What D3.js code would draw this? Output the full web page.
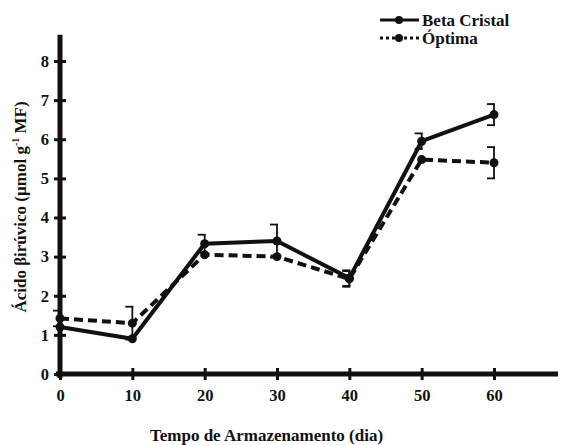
<!DOCTYPE html>
<html><head><meta charset="utf-8">
<script src="https://cdn.jsdelivr.net/npm/d3@7"></script>
<style>body{margin:0;background:#fff}svg{display:block}</style>
</head><body>
<script>
const days = [0, 10, 20, 30, 40, 50, 60];
const betaCristal = [1.2, 0.9, 3.33, 3.4, 2.45, 5.95, 6.63];
const betaErr = [0, 0, 0.23, 0.42, 0.2, 0.2, 0.27];
const optima = [1.42, 1.3, 3.05, 3.0, 2.43, 5.48, 5.4];
const optimaErr = [0.2, 0.42, 0, 0, 0.2, 0, 0.4];
const yTicks = [0, 1, 2, 3, 4, 5, 6, 7, 8];
const xTicks = [0, 10, 20, 30, 40, 50, 60];
const seriesNames = ["Beta Cristal", "Óptima"];

const W = 561, H = 445;
const svg = d3.select("body").append("svg").attr("width", W).attr("height", H);
const font = "'Liberation Serif', 'Times New Roman', serif";

const x = d3.scaleLinear().domain([0, 60]).range([60, 494]);
const y = d3.scaleLinear().domain([0, 8]).range([374, 61]);

// axes
const xAxisEnd = x.invert(558);
svg.append("line").attr("x1", x(0) - 4).attr("x2", x(xAxisEnd)).attr("y1", y(0)).attr("y2", y(0))
  .attr("stroke", "#111").attr("stroke-width", 5);
svg.append("line").attr("x1", x(0)).attr("x2", x(0)).attr("y1", y(0) + 4).attr("y2", y(8.67))
  .attr("stroke", "#111").attr("stroke-width", 5);

const xAxis = d3.axisBottom(x).tickValues(xTicks).tickSize(0).tickPadding(0);
const gx = svg.append("g").attr("transform", `translate(0,${y(0)})`).call(xAxis);
gx.select(".domain").remove();
gx.selectAll(".tick text").attr("y", 27).attr("dy", null).attr("font-family", font).attr("font-weight", "bold")
  .attr("font-size", 16.5).attr("fill", "#111");
gx.selectAll(".tick").append("line").attr("y1", -6).attr("y2", 6).attr("stroke", "#111").attr("stroke-width", 3);

const yAxis = d3.axisLeft(y).tickValues(yTicks).tickSize(0).tickPadding(0);
const gy = svg.append("g").attr("transform", `translate(${x(0)},0)`).call(yAxis);
gy.select(".domain").remove();
gy.selectAll(".tick text").attr("x", -11).attr("font-family", font).attr("font-weight", "bold")
  .attr("font-size", 16.5).attr("fill", "#111");
gy.selectAll(".tick").append("line").attr("x1", -6).attr("x2", 6).attr("stroke", "#111").attr("stroke-width", 3);

// axis titles
svg.append("text").attr("x", 266.5).attr("y", 441).attr("text-anchor", "middle")
  .attr("font-family", font).attr("font-weight", "bold").attr("font-size", 17).attr("fill", "#111")
  .text("Tempo de Armazenamento (dia)");
const yl = svg.append("text").attr("transform", "translate(26,207) rotate(-90)").attr("text-anchor", "middle")
  .attr("font-family", font).attr("font-weight", "bold").attr("font-size", 17).attr("fill", "#111");
yl.append("tspan").text("Ácido βirúvico (µmol g");
yl.append("tspan").attr("dy", -7).attr("font-size", 10).text("-1");
yl.append("tspan").attr("dy", 7).text(" MF)");

// series
const line = d3.line().x((d, i) => x(days[i])).y(d => y(d));
const series = [
  {vals: optima, err: optimaErr, dash: "9,5"},
  {vals: betaCristal, err: betaErr, dash: null}
];
series.forEach(s => {
  const g = svg.append("g");
  s.vals.forEach((v, i) => {
    const e = s.err[i];
    if (!e) return;
    const cx = x(days[i]);
    g.append("line").attr("x1", cx).attr("x2", cx).attr("y1", y(v - e)).attr("y2", y(v + e))
      .attr("stroke", "#111").attr("stroke-width", 1.8);
    [v - e, v + e].forEach(t => {
      g.append("line").attr("x1", cx - 7).attr("x2", cx + 1).attr("y1", y(t)).attr("y2", y(t))
        .attr("stroke", "#111").attr("stroke-width", 1.8);
    });
  });
  g.append("path").attr("d", line(s.vals)).attr("fill", "none").attr("stroke", "#111")
    .attr("stroke-width", 4).attr("stroke-dasharray", s.dash);
  g.selectAll("circle").data(s.vals).join("circle")
    .attr("cx", (d, i) => x(days[i])).attr("cy", d => y(d)).attr("r", 4.5).attr("fill", "#111");
});

// legend
const leg = [{name: seriesNames[0], dash: null, yy: 20}, {name: seriesNames[1], dash: "3,3", yy: 38}];
leg.forEach(l => {
  svg.append("line").attr("x1", 380).attr("x2", 419).attr("y1", l.yy).attr("y2", l.yy)
    .attr("stroke", "#111").attr("stroke-width", 3).attr("stroke-dasharray", l.dash);
  svg.append("circle").attr("cx", 399).attr("cy", l.yy).attr("r", 4).attr("fill", "#111");
  svg.append("text").attr("x", 422).attr("y", l.yy + 5.5).attr("font-family", font)
    .attr("font-weight", "bold").attr("font-size", 17).attr("fill", "#111").text(l.name);
});
</script>
</body></html>
